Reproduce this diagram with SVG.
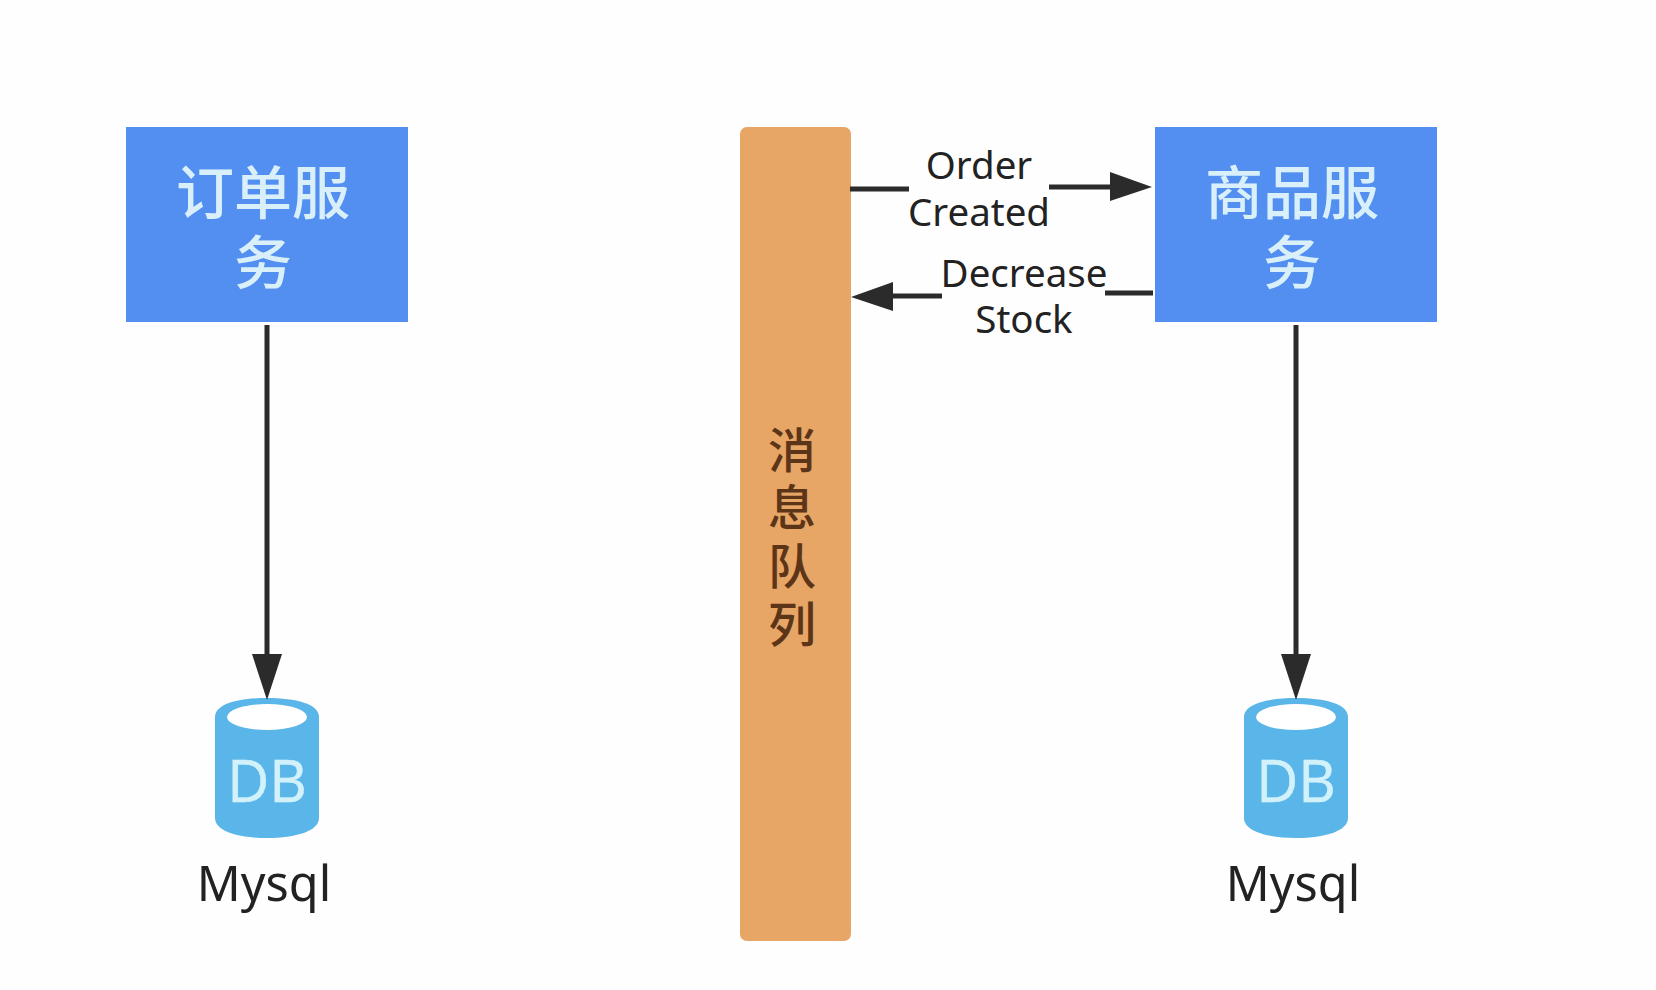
<svg xmlns="http://www.w3.org/2000/svg" width="1656" height="990" viewBox="0 0 1656 990">
<style>
.lat{font-family:"Noto Sans","Open Sans","Noto Sans CJK SC",sans-serif;text-anchor:middle;fill:#222}
.cjk{font-family:"Noto Sans CJK SC",sans-serif;text-anchor:middle;font-weight:500}
.svc{fill:#528ff0}
.w{fill:#d9f0fb;font-size:58px}
.c{fill:#5c3518;font-size:48px}
.lbl{font-size:38.5px}
.my{font-size:48.5px}
.db{fill:#5ab5e8}
.dbt{font-family:"Open Sans",sans-serif;font-size:58px;font-weight:400;text-anchor:middle;fill:#d2f2fb;stroke:#d2f2fb;stroke-width:.6}
.ln{fill:none;stroke:#2b2b2b;stroke-width:5}
.hd{fill:#2b2b2b}
</style>
<rect width="1656" height="990" fill="#fefefe"/>
<g id="order-service">
<rect class="svc" x="126" y="127" width="282" height="195"/>
<text class="cjk w" y="214"><tspan x="263">订单服</tspan><tspan x="263" dy="70">务</tspan></text>
</g>
<g id="goods-service">
<rect class="svc" x="1155" y="127" width="282" height="195"/>
<text class="cjk w" y="214"><tspan x="1292">商品服</tspan><tspan x="1292" dy="70">务</tspan></text>
</g>
<g id="queue">
<rect x="740" y="127" width="111" height="814" rx="7" fill="#e7a566"/>
<text class="cjk c" y="468"><tspan x="792">消</tspan><tspan x="792" dy="57">息</tspan><tspan x="792" dy="59">队</tspan><tspan x="792" dy="58">列</tspan></text>
</g>
<g id="order-db">
<path class="db" d="M215 717C215 704 238 698 267 698S319 704 319 717V818C319 831 296 838 267 838S215 831 215 818Z"/>
<ellipse cx="267" cy="717" rx="40" ry="13" fill="#fff"/>
<text class="dbt" x="267" y="802">DB</text>
<text class="lat my" x="264" y="901">Mysql</text>
</g>
<g id="goods-db">
<path class="db" d="M1244 717C1244 704 1267 698 1296 698S1348 704 1348 717V818C1348 831 1325 838 1296 838S1244 831 1244 818Z"/>
<ellipse cx="1296" cy="717" rx="40" ry="13" fill="#fff"/>
<text class="dbt" x="1296" y="802">DB</text>
<text class="lat my" x="1293" y="901">Mysql</text>
</g>
<g id="connectors">
<path class="ln" d="M267 325V660"/>
<polygon class="hd" points="252,654 282,654 267,700"/>
<path class="ln" d="M1296 325V660"/>
<polygon class="hd" points="1281,654 1311,654 1296,700"/>
<path class="ln" d="M850 189H909"/>
<path class="ln" d="M1049 187H1115"/>
<polygon class="hd" points="1110,172 1152,187 1110,201"/>
<path class="ln" d="M1153 293H1105"/>
<path class="ln" d="M942 296H890"/>
<polygon class="hd" points="893,282 851,297 893,311"/>
</g>
<g id="labels">
<text class="lat lbl" x="979" y="179">Order</text>
<text class="lat lbl" x="979" y="226">Created</text>
<text class="lat lbl" x="1024" y="287">Decrease</text>
<text class="lat lbl" x="1024" y="333">Stock</text>
</g>
</svg>
